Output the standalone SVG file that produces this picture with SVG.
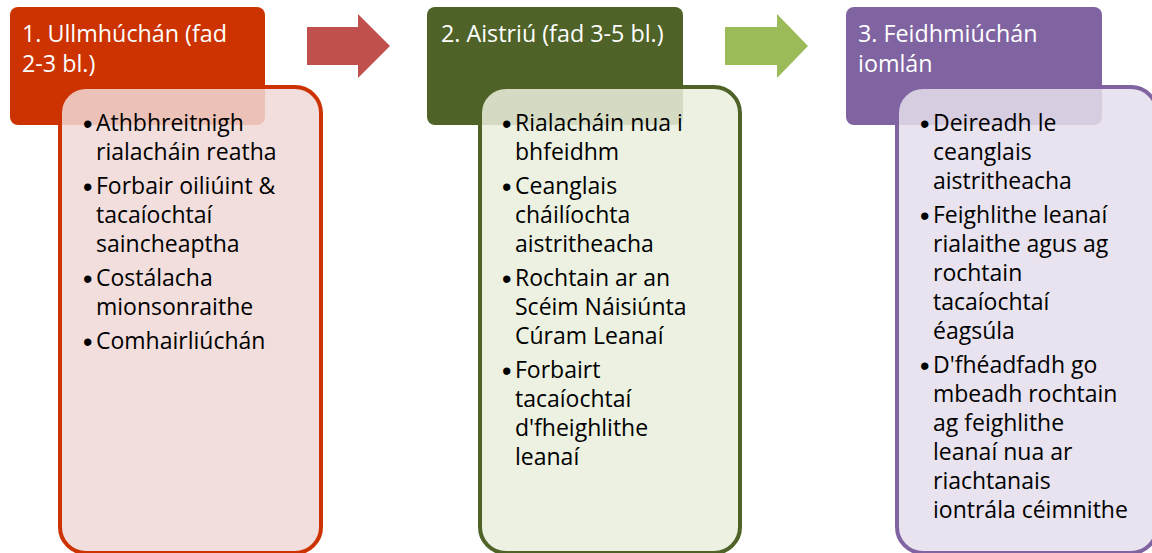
<svg xmlns="http://www.w3.org/2000/svg" width="1152" height="553" viewBox="0 0 1152 553">
<style>
.hd{font-family:"Open Sans","Liberation Sans",sans-serif;font-size:23.3px;fill:#ffffff}
.bt{font-family:"Open Sans","Liberation Sans",sans-serif;font-size:23px;fill:#000000}
.bu{font-family:"Liberation Sans",sans-serif;font-size:27px;fill:#000000}
.b1{fill:#F0D8D6;fill-opacity:0.86;stroke:#CC3300;stroke-width:4}
.b2{fill:#EAEFDC;fill-opacity:0.86;stroke:#4F6228;stroke-width:4}
.b3{fill:#E4DEEB;fill-opacity:0.86;stroke:#8064A2;stroke-width:4}
</style>
<rect width="1152" height="553" fill="#ffffff"/>
<g id="header1"><rect x="10" y="7" width="255" height="118" rx="8" fill="#CC3300"/>
<text class="hd" x="22" y="42">1. Ullmhúchán (fad</text><text class="hd" x="22" y="72">2-3 bl.)</text></g>
<g id="body1"><rect class="b1" x="60" y="87" width="261" height="466" rx="26"/>
<text class="bu" x="83" y="133">•</text><text class="bt" x="96" y="131">Athbhreitnigh</text>
<text class="bt" x="96" y="160">rialacháin reatha</text>
<text class="bu" x="83" y="196">•</text><text class="bt" x="96" y="194">Forbair oiliúint &amp;</text>
<text class="bt" x="96" y="223">tacaíochtaí</text>
<text class="bt" x="96" y="252">saincheaptha</text>
<text class="bu" x="83" y="288">•</text><text class="bt" x="96" y="286">Costálacha</text>
<text class="bt" x="96" y="315">mionsonraithe</text>
<text class="bu" x="83" y="351">•</text><text class="bt" x="96" y="349">Comhairliúchán</text>
</g>
<g id="header2"><rect x="427" y="7" width="256" height="118" rx="8" fill="#4F6228"/>
<text class="hd" x="441" y="42">2. Aistriú (fad 3-5 bl.)</text></g>
<g id="body2"><rect class="b2" x="480" y="87" width="260" height="466" rx="26"/>
<text class="bu" x="502" y="133">•</text><text class="bt" x="515" y="131">Rialacháin nua i</text>
<text class="bt" x="515" y="160">bhfeidhm</text>
<text class="bu" x="502" y="196">•</text><text class="bt" x="515" y="194">Ceanglais</text>
<text class="bt" x="515" y="223">cháilíochta</text>
<text class="bt" x="515" y="252">aistritheacha</text>
<text class="bu" x="502" y="288">•</text><text class="bt" x="515" y="286">Rochtain ar an</text>
<text class="bt" x="515" y="315">Scéim Náisiúnta</text>
<text class="bt" x="515" y="344">Cúram Leanaí</text>
<text class="bu" x="502" y="380">•</text><text class="bt" x="515" y="378">Forbairt</text>
<text class="bt" x="515" y="407">tacaíochtaí</text>
<text class="bt" x="515" y="436">d'fheighlithe</text>
<text class="bt" x="515" y="465">leanaí</text>
</g>
<g id="header3"><rect x="846" y="7" width="256" height="118" rx="8" fill="#8064A2"/>
<text class="hd" x="858" y="42">3. Feidhmiúchán</text><text class="hd" x="858" y="72">iomlán</text></g>
<g id="body3"><rect class="b3" x="897" y="87" width="260" height="466" rx="26"/>
<text class="bu" x="920" y="133">•</text><text class="bt" x="933" y="131">Deireadh le</text>
<text class="bt" x="933" y="160">ceanglais</text>
<text class="bt" x="933" y="189">aistritheacha</text>
<text class="bu" x="920" y="225">•</text><text class="bt" x="933" y="223">Feighlithe leanaí</text>
<text class="bt" x="933" y="252">rialaithe agus ag</text>
<text class="bt" x="933" y="281">rochtain</text>
<text class="bt" x="933" y="310">tacaíochtaí</text>
<text class="bt" x="933" y="339">éagsúla</text>
<text class="bu" x="920" y="375">•</text><text class="bt" x="933" y="373">D'fhéadfadh go</text>
<text class="bt" x="933" y="402">mbeadh rochtain</text>
<text class="bt" x="933" y="431">ag feighlithe</text>
<text class="bt" x="933" y="460">leanaí nua ar</text>
<text class="bt" x="933" y="489">riachtanais</text>
<text class="bt" x="933" y="518">iontrála céimnithe</text>
</g>
<g id="connectors">
<polygon points="307,27 358,27 358,14 390,46 358,78 358,65 307,65" fill="#C0504D"/>
<polygon points="725,27 777,27 777,14 808,46 777,78 777,65 725,65" fill="#9BBB59"/>
</g>
</svg>
